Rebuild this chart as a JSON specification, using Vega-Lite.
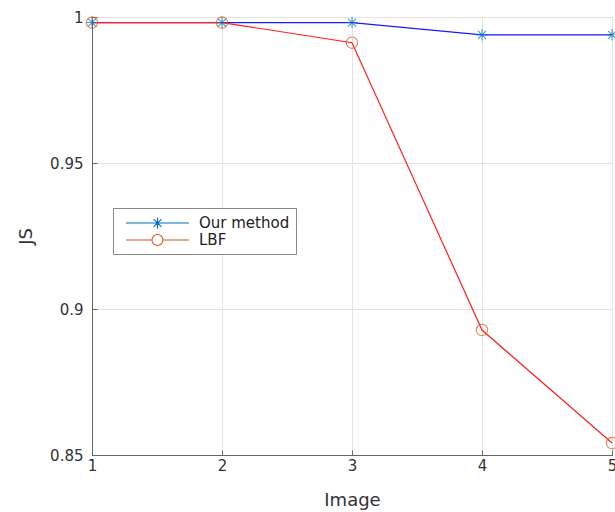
{
  "$schema": "https://vega.github.io/schema/vega-lite/v6.json",
  "autosize": {"type": "none"},
  "padding": {"left": 92, "top": 17, "right": 3, "bottom": 57},
  "width": 520,
  "height": 438,
  "background": "white",
  "config": {
    "font": "DejaVu Sans",
    "view": {"stroke": "#666", "strokeWidth": 1},
    "axis": {
      "labelFont": "DejaVu Sans",
      "titleFont": "DejaVu Sans",
      "labelFontSize": 15,
      "titleFontSize": 18,
      "titleFontWeight": "normal",
      "labelColor": "#333",
      "titleColor": "#333",
      "domainColor": "#666",
      "tickColor": "#666",
      "gridColor": "#e3e3e3",
      "gridWidth": 1
    }
  },
  "data": {
    "values": [
      {"image": 1, "series": "Our method", "js": 0.9981},
      {"image": 2, "series": "Our method", "js": 0.9981},
      {"image": 3, "series": "Our method", "js": 0.9981},
      {"image": 4, "series": "Our method", "js": 0.9939},
      {"image": 5, "series": "Our method", "js": 0.9939},
      {"image": 1, "series": "LBF", "js": 0.9981},
      {"image": 2, "series": "LBF", "js": 0.9981},
      {"image": 3, "series": "LBF", "js": 0.9912},
      {"image": 4, "series": "LBF", "js": 0.8928},
      {"image": 5, "series": "LBF", "js": 0.8541}
    ]
  },
  "encoding": {
    "x": {
      "field": "image", "type": "quantitative",
      "scale": {"domain": [1, 5], "nice": false, "zero": false},
      "axis": {"title": "Image", "values": [1, 2, 3, 4, 5], "format": "d", "tickSize": -5, "labelPadding": 8, "titlePadding": 18, "labelFlush": false}
    },
    "y": {
      "field": "js", "type": "quantitative",
      "scale": {"domain": [0.85, 1], "nice": false, "zero": false},
      "axis": {"title": "JS", "values": [0.85, 0.9, 0.95, 1], "format": "~g", "tickSize": -5, "labelPadding": 14, "titlePadding": 14, "labelFlush": false}
    }
  },
  "layer": [
    {
      "mark": {"type": "line", "strokeWidth": 1.2},
      "encoding": {
        "stroke": {
          "condition": {"test": "datum.series === 'LBF'", "value": "#ff2020"},
          "value": "#1a1aff"
        },
        "detail": {"field": "series", "type": "nominal"}
      }
    },
    {
      "mark": {"type": "point", "filled": false, "strokeWidth": 1.1, "size": 130},
      "encoding": {
        "stroke": {
          "condition": {"test": "datum.series === 'LBF'", "value": "#D95319"},
          "value": "#0072BD"
        },
        "shape": {
          "condition": {"test": "datum.series === 'LBF'", "value": "circle"},
          "value": "M-1,0H1M0,-1V1M-0.7,-0.7L0.7,0.7M-0.7,0.7L0.7,-0.7"
        }
      }
    },
    {
      "mark": {"type": "point", "filled": false, "strokeWidth": 1.1, "size": 256, "opacity": 0},
      "encoding": {
        "color": {
          "field": "series", "type": "nominal",
          "scale": {"domain": ["Our method", "LBF"], "range": ["#0072BD", "#D95319"]},
          "legend": {
            "title": null,
            "orient": "none",
            "legendX": 21,
            "legendY": 191,
            "direction": "vertical",
            "strokeColor": "#888",
            "fillColor": "white",
            "padding": 6,
            "labelFont": "DejaVu Sans",
            "labelFontSize": 15,
            "labelColor": "#222",
            "symbolSize": 256,
            "symbolStrokeWidth": 1.1,
            "symbolOpacity": 1,
            "symbolFillColor": "transparent",
            "rowPadding": 0,
            "labelOffset": 62
          }
        },
        "shape": {
          "field": "series", "type": "nominal",
          "scale": {
            "domain": ["Our method", "LBF"],
            "range": [
              "M-0.25,0H7.625M3,0H4.375M3.6875,-0.6875V0.6875M3.2,-0.49L4.18,0.49M3.2,0.49L4.18,-0.49",
              "M-0.25,0H3A0.6875,0.6875,0,1,1,4.375,0A0.6875,0.6875,0,1,1,3,0M4.375,0H7.625"
            ]
          }
        }
      }
    }
  ]
}
